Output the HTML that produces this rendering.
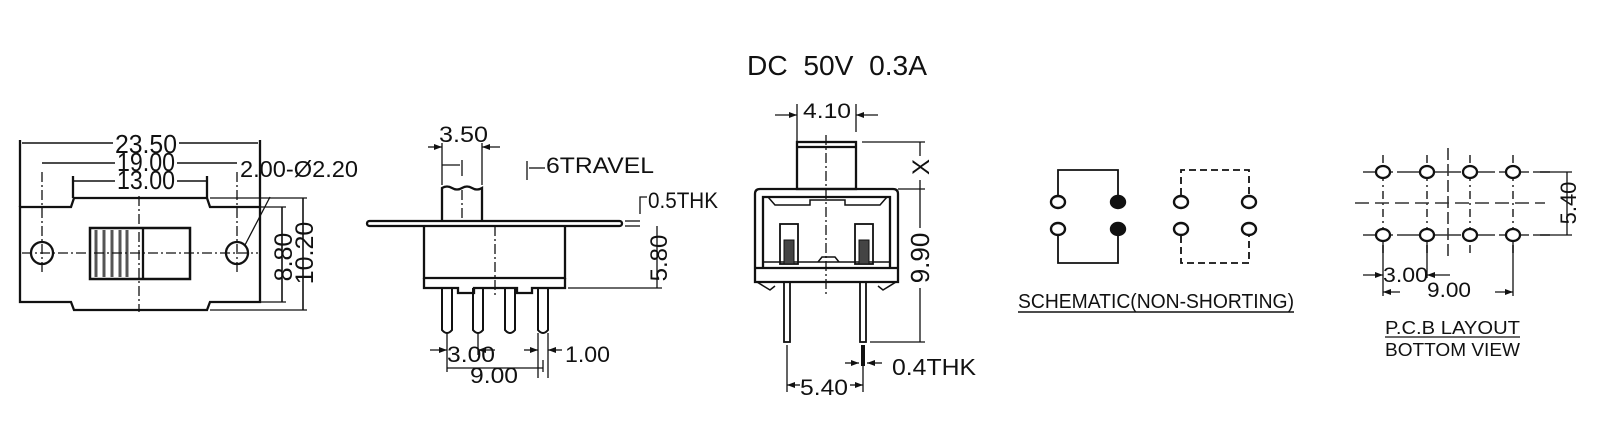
<!DOCTYPE html>
<html><head><meta charset="utf-8"><style>
html,body{margin:0;padding:0;background:#fff;}
svg{display:block;}
text{font-family:"Liberation Sans",Arial,sans-serif;fill:#111;}
</style></head><body>
<svg width="1606" height="437" viewBox="0 0 1606 437" xmlns="http://www.w3.org/2000/svg">
<defs>
<marker id="a" markerWidth="8" markerHeight="6" refX="8" refY="3" orient="auto" markerUnits="userSpaceOnUse"><path d="M0,0 L8,3 L0,6z" fill="#111"/></marker>
</defs>
<g stroke="#111" stroke-width="2.3" fill="none">
<!-- VIEW 1 -->
<path d="M20,207 H71 L74,198 H207 L210,207 H260 V302 H210 L207,310 H74 L71,302 H20 Z"/>
<circle cx="42" cy="253" r="11"/>
<circle cx="237" cy="253" r="11"/>
<rect x="90" y="228" width="100" height="51" stroke-width="2.5"/>
<line x1="143" y1="228" x2="143" y2="279"/>
<g stroke="#555" stroke-width="3"><line x1="96" y1="230" x2="96" y2="277"/><line x1="104" y1="230" x2="104" y2="277"/><line x1="112" y1="230" x2="112" y2="277"/><line x1="120" y1="230" x2="120" y2="277"/><line x1="127" y1="230" x2="127" y2="277"/></g>
<g stroke-width="1.3" stroke-dasharray="10,3,2,3"><line x1="139" y1="196" x2="139" y2="312"/><line x1="22" y1="253" x2="258" y2="253"/><line x1="42" y1="172" x2="42" y2="275"/><line x1="237" y1="172" x2="237" y2="275"/></g>
<line x1="20" y1="140" x2="20" y2="207"/><line x1="260" y1="140" x2="260" y2="207"/>
<line x1="22" y1="143" x2="258" y2="143" stroke-width="1.6"/>
<line x1="42" y1="163" x2="237" y2="163" stroke-width="1.6"/>
<line x1="73" y1="176" x2="73" y2="198"/><line x1="207" y1="176" x2="207" y2="198"/>
<line x1="73" y1="181" x2="207" y2="181" stroke-width="1.6"/>
<line x1="270" y1="197" x2="245" y2="245" stroke-width="1.3"/>
<line x1="260" y1="207" x2="286" y2="207" stroke-width="1.3"/><line x1="260" y1="302" x2="286" y2="302" stroke-width="1.3"/>
<line x1="210" y1="198" x2="307" y2="198" stroke-width="1.3"/><line x1="210" y1="310" x2="307" y2="310" stroke-width="1.3"/>
<line x1="282" y1="207" x2="282" y2="302" stroke-width="1.6"/>
<line x1="303" y1="198" x2="303" y2="310" stroke-width="1.6"/>

<!-- VIEW 2 -->
<rect x="367" y="221" width="255" height="5" rx="2.5"/>
<path d="M424,226 V278 H565 V226"/>
<path d="M424,278 V288 H458 V293 H474 V288 H517 V293 H532 V288 H565 V278"/>
<path d="M442,221 V188 Q447,185 452,188 T462,188 T472,188 T482,188 V221"/>
<g stroke-width="1.3" stroke-dasharray="10,3,2,3"><line x1="495" y1="226" x2="495" y2="296"/><line x1="462" y1="190" x2="462" y2="220"/></g>
<g stroke-width="2">
<path d="M442,288 V330 Q447,336 452,330 V288"/>
<path d="M473,288 V330 Q478,336 483,330 V288"/>
<path d="M505,288 V330 Q510,336 515,330 V288"/>
<path d="M538,288 V330 Q543,336 548,330 V288"/>
</g>
<g stroke-width="1.3">
<line x1="442" y1="143" x2="442" y2="185"/><line x1="482" y1="143" x2="482" y2="185"/>
<line x1="428" y1="147" x2="442" y2="147" marker-end="url(#a)"/><line x1="500" y1="147" x2="482" y2="147" marker-end="url(#a)"/>
<line x1="442" y1="165" x2="460" y2="165"/><line x1="462" y1="160" x2="462" y2="176"/>
<line x1="527" y1="161" x2="527" y2="180"/><line x1="529" y1="168" x2="545" y2="168"/>
<line x1="625" y1="221" x2="640" y2="221"/><line x1="625" y1="226" x2="640" y2="226"/>
<path d="M647,197 H640 V214"/><line x1="657" y1="226" x2="657" y2="288"/><line x1="568" y1="288" x2="662" y2="288"/>
<line x1="447" y1="333" x2="447" y2="372"/><line x1="478" y1="333" x2="478" y2="355"/>
<line x1="430" y1="350" x2="447" y2="350" marker-end="url(#a)"/><line x1="495" y1="350" x2="478" y2="350" marker-end="url(#a)"/>
<line x1="447" y1="368" x2="543" y2="368"/>
<line x1="538" y1="333" x2="538" y2="378"/><line x1="548" y1="333" x2="548" y2="378"/><line x1="543" y1="360" x2="543" y2="372"/>
<line x1="524" y1="350" x2="538" y2="350" marker-end="url(#a)"/><line x1="562" y1="350" x2="548" y2="350" marker-end="url(#a)"/>
</g>

<!-- VIEW 3 -->
<rect x="797" y="142" width="59" height="47"/>
<line x1="797" y1="147" x2="856" y2="147"/>
<path d="M755,282 V194 Q755,189 760,189 H893 Q898,189 898,194 V282 Z"/>
<path d="M763,268 V197 H890 V268"/>
<line x1="755" y1="268" x2="898" y2="268"/>
<path d="M768,197 L775,205 H810 V200 H845 V205 H880 L887,197" stroke-width="1.5"/>
<line x1="763" y1="262" x2="890" y2="262" stroke-width="1.5"/>
<path d="M818,262 L822,257 H835 L839,262" stroke-width="1.5"/>
<rect x="780" y="224" width="18" height="40" stroke-width="1.8"/>
<rect x="855" y="224" width="18" height="40" stroke-width="1.8"/>
<rect x="784" y="240" width="10" height="24" fill="#444" stroke-width="1"/>
<rect x="859" y="240" width="10" height="24" fill="#444" stroke-width="1"/>
<path d="M757,282 L770,290 L775,286" stroke-width="1.5"/><path d="M896,282 L883,290 L878,286" stroke-width="1.5"/>
<rect x="784" y="282" width="6" height="60" stroke-width="1.8"/>
<rect x="860" y="282" width="6" height="60" stroke-width="1.8"/>
<line x1="826" y1="135" x2="826" y2="295" stroke-width="1.3" stroke-dasharray="10,3,2,3"/>
<g stroke-width="1.3">
<line x1="797" y1="104" x2="797" y2="142"/><line x1="856" y1="104" x2="856" y2="132"/>
<line x1="775" y1="115" x2="797" y2="115" marker-end="url(#a)"/><line x1="878" y1="115" x2="856" y2="115" marker-end="url(#a)"/>
<line x1="862" y1="142" x2="925" y2="142"/><line x1="898" y1="189" x2="925" y2="189"/><line x1="870" y1="342" x2="925" y2="342"/>
<line x1="920" y1="142" x2="920" y2="342"/>
<line x1="863" y1="345" x2="863" y2="366" stroke-width="4"/>
<line x1="863" y1="366" x2="863" y2="392"/>
<line x1="845" y1="363" x2="859" y2="363" marker-end="url(#a)"/><line x1="882" y1="363" x2="867" y2="363" marker-end="url(#a)"/>
<line x1="787" y1="345" x2="787" y2="392"/>
<line x1="800" y1="385" x2="787" y2="385" marker-end="url(#a)"/><line x1="850" y1="385" x2="863" y2="385" marker-end="url(#a)"/>
</g>

<!-- SCHEMATIC -->
<g stroke-width="2.4">
<ellipse cx="1058" cy="202" rx="7" ry="6"/><ellipse cx="1058" cy="229" rx="7" ry="6"/>
<ellipse cx="1118" cy="202" rx="7" ry="6" fill="#111"/><ellipse cx="1118" cy="229" rx="7" ry="6" fill="#111"/>
<ellipse cx="1181" cy="202" rx="7" ry="6"/><ellipse cx="1181" cy="229" rx="7" ry="6"/>
<ellipse cx="1249" cy="202" rx="7" ry="6"/><ellipse cx="1249" cy="229" rx="7" ry="6"/>
</g>
<path d="M1058,195 V170 H1118 V195" stroke-width="1.8"/>
<path d="M1058,236 V263 H1118 V236" stroke-width="1.8"/>
<path d="M1181,195 V170 H1249 V195" stroke-width="1.8" stroke-dasharray="7,4"/>
<path d="M1181,236 V263 H1249 V236" stroke-width="1.8" stroke-dasharray="7,4"/>
<line x1="1018" y1="312" x2="1294" y2="312" stroke-width="1.5"/>

<!-- PCB -->
<g stroke="#333" stroke-width="1.6">
<line x1="1363" y1="172" x2="1550" y2="172" stroke-dasharray="30,4"/>
<line x1="1363" y1="235" x2="1550" y2="235" stroke-dasharray="30,4"/>
<line x1="1355" y1="203" x2="1545" y2="203" stroke-dasharray="14,6"/>
<line x1="1448" y1="148" x2="1448" y2="260" stroke-dasharray="12,4"/>
<g stroke-dasharray="8,4,2,4"><line x1="1383" y1="155" x2="1383" y2="255"/><line x1="1427" y1="155" x2="1427" y2="255"/><line x1="1470" y1="155" x2="1470" y2="255"/><line x1="1513" y1="155" x2="1513" y2="255"/></g>
</g>
<g stroke-width="2.3" fill="#fff">
<ellipse cx="1383" cy="172" rx="7" ry="6"/><ellipse cx="1427" cy="172" rx="7" ry="6"/><ellipse cx="1470" cy="172" rx="7" ry="6"/><ellipse cx="1513" cy="172" rx="7" ry="6"/>
<ellipse cx="1383" cy="235" rx="7" ry="6"/><ellipse cx="1427" cy="235" rx="7" ry="6"/><ellipse cx="1470" cy="235" rx="7" ry="6"/><ellipse cx="1513" cy="235" rx="7" ry="6"/>
</g>
<g stroke-width="1.3">
<line x1="1540" y1="172" x2="1572" y2="172"/><line x1="1540" y1="235" x2="1572" y2="235"/><line x1="1567" y1="172" x2="1567" y2="235"/>
<line x1="1383" y1="242" x2="1383" y2="296"/><line x1="1427" y1="242" x2="1427" y2="278"/><line x1="1513" y1="242" x2="1513" y2="296"/>
<line x1="1363" y1="275" x2="1383" y2="275" marker-end="url(#a)"/><line x1="1450" y1="275" x2="1427" y2="275" marker-end="url(#a)"/>
<line x1="1400" y1="292" x2="1383" y2="292" marker-end="url(#a)"/><line x1="1495" y1="292" x2="1513" y2="292" marker-end="url(#a)"/>
<line x1="1385" y1="337" x2="1520" y2="337"/>
</g>
</g>

<!-- TEXT -->
<g font-size="26">
<text x="747" y="75" font-size="28" textLength="180" lengthAdjust="spacingAndGlyphs" xml:space="preserve">DC  50V  0.3A</text>
<rect x="113" y="133" width="66" height="20" fill="#fff"/><text x="115" y="153" textLength="62" lengthAdjust="spacingAndGlyphs">23.50</text>
<rect x="115" y="153" width="62" height="18" fill="#fff"/><text x="117" y="171" textLength="58" lengthAdjust="spacingAndGlyphs">19.00</text>
<rect x="115" y="171" width="62" height="18" fill="#fff"/><text x="117" y="189" textLength="58" lengthAdjust="spacingAndGlyphs">13.00</text>
<text x="240" y="177" font-size="23" textLength="118" lengthAdjust="spacingAndGlyphs">2.00-Ø2.20</text>
<text transform="translate(292,257) rotate(-90)" text-anchor="middle" font-size="25">8.80</text>
<text transform="translate(313,253) rotate(-90)" text-anchor="middle" font-size="25">10.20</text>
<text x="439" y="142" font-size="22" textLength="49" lengthAdjust="spacingAndGlyphs">3.50</text>
<text x="546" y="173" font-size="22" textLength="108" lengthAdjust="spacingAndGlyphs">6TRAVEL</text>
<text x="648" y="208" font-size="22" textLength="70" lengthAdjust="spacingAndGlyphs">0.5THK</text>
<text transform="translate(667,258) rotate(-90)" text-anchor="middle" font-size="24">5.80</text>
<text x="447" y="362" font-size="22" textLength="48" lengthAdjust="spacingAndGlyphs">3.00</text>
<text x="470" y="383" font-size="22" textLength="48" lengthAdjust="spacingAndGlyphs">9.00</text>
<text x="565" y="362" font-size="22" textLength="45" lengthAdjust="spacingAndGlyphs">1.00</text>
<text x="803" y="118" font-size="21" textLength="48" lengthAdjust="spacingAndGlyphs">4.10</text>
<rect x="912" y="156" width="18" height="24" fill="#fff"/><text transform="translate(929,167) rotate(-90)" text-anchor="middle" font-size="24">X</text>
<rect x="908" y="228" width="24" height="60" fill="#fff"/><text transform="translate(929,258) rotate(-90)" text-anchor="middle" font-size="26">9.90</text>
<text x="892" y="375" font-size="23" textLength="84" lengthAdjust="spacingAndGlyphs">0.4THK</text>
<rect x="800" y="377" width="48" height="18" fill="#fff"/><text x="800" y="395" font-size="22" textLength="48" lengthAdjust="spacingAndGlyphs">5.40</text>
<text x="1018" y="308" font-size="20" textLength="276" lengthAdjust="spacingAndGlyphs">SCHEMATIC(NON-SHORTING)</text>
<text transform="translate(1576,203) rotate(-90)" text-anchor="middle" font-size="22">5.40</text>
<text x="1383" y="282" font-size="21" textLength="45" lengthAdjust="spacingAndGlyphs">3.00</text>
<rect x="1427" y="283" width="44" height="16" fill="#fff"/><text x="1427" y="297" font-size="21" textLength="44" lengthAdjust="spacingAndGlyphs">9.00</text>
<text x="1385" y="334" font-size="18" textLength="135" lengthAdjust="spacingAndGlyphs">P.C.B LAYOUT</text>
<text x="1385" y="356" font-size="18" textLength="135" lengthAdjust="spacingAndGlyphs">BOTTOM VIEW</text>
</g>
</svg>
</body></html>
